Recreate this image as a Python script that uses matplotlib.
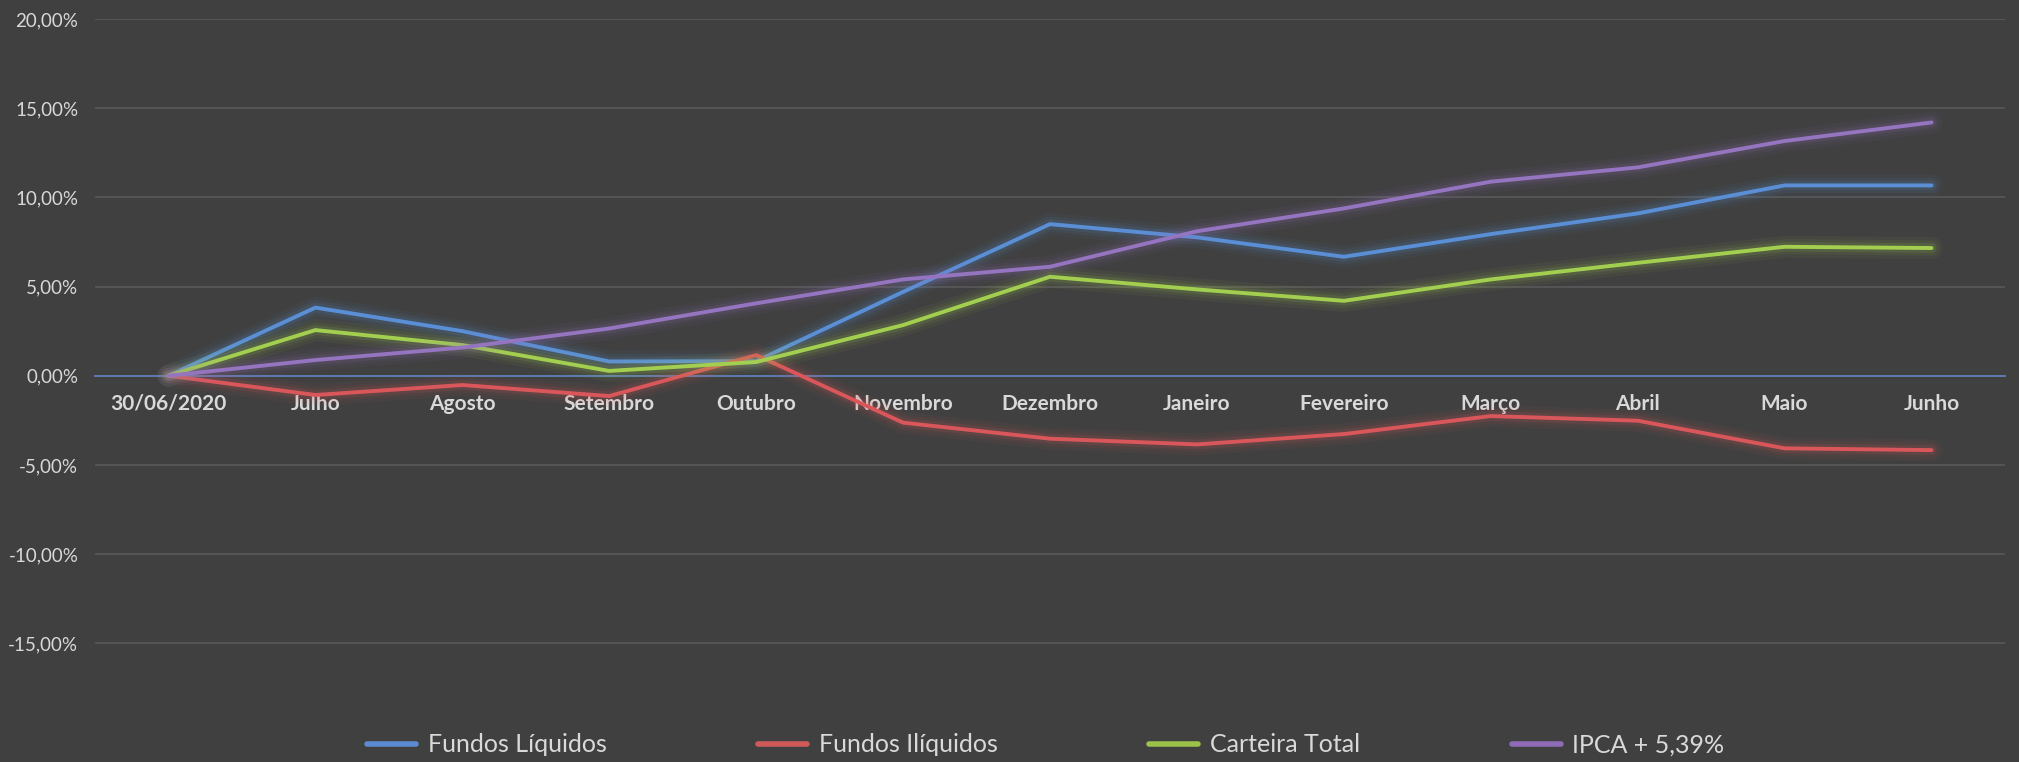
import matplotlib
matplotlib.use("Agg")
import matplotlib.pyplot as plt
import matplotlib.patheffects as pe
from matplotlib.ticker import FuncFormatter, FixedLocator

categories = ["30/06/2020", "Julho", "Agosto", "Setembro", "Outubro", "Novembro",
              "Dezembro", "Janeiro", "Fevereiro", "Março", "Abril", "Maio", "Junho"]

fundos_liquidos = [0.0, 3.82, 2.50, 0.80, 0.82, 4.70, 8.50, 7.76, 6.67, 7.94, 9.10, 10.67, 10.67]
fundos_iliquidos = [0.0, -1.08, -0.52, -1.14, 1.16, -2.63, -3.53, -3.85, -3.27, -2.26, -2.52, -4.07, -4.17]
carteira_total = [0.0, 2.56, 1.72, 0.27, 0.77, 2.84, 5.55, 4.84, 4.20, 5.40, 6.33, 7.23, 7.16]
ipca = [0.0, 0.88, 1.58, 2.65, 4.06, 5.40, 6.11, 8.10, 9.38, 10.88, 11.68, 13.16, 14.20]

series_names = ["Fundos Líquidos", "Fundos Ilíquidos", "Carteira Total", "IPCA + 5,39%"]
series_values = [fundos_liquidos, fundos_iliquidos, carteira_total, ipca]
series_colors = ["#5a8fd6", "#d9575a", "#a3cf50", "#9574c0"]
legend_colors = ["#5b8bd0", "#d05a5a", "#9bc34a", "#8f6bb8"]

y_ticks = [-15, -10, -5, 0, 5, 10, 15, 20]

plt.rcParams['font.family'] = ['Lato', 'DejaVu Sans']

BG = "#404040"
TXT = "#d9d9d9"

fig = plt.figure(figsize=(20.19, 7.62), dpi=100, facecolor=BG)
ax = fig.add_axes([95/2019, 1-720/762, (2005-95)/2019, (720-19)/762])
ax.set_facecolor(BG)

x = list(range(len(categories)))
for name, vals, col in zip(series_names, series_values, series_colors):
    ax.plot(x, vals, color=col, lw=2.8, label=name, solid_capstyle='round', zorder=3,
            path_effects=[pe.Stroke(linewidth=16, foreground=col, alpha=0.05),
                          pe.Stroke(linewidth=11, foreground=col, alpha=0.07),
                          pe.Stroke(linewidth=7, foreground=col, alpha=0.12),
                          pe.Normal()])

ax.set_xlim(-0.5, len(categories) - 0.5)
ax.set_ylim(-19.3, 20)
ax.yaxis.set_major_locator(FixedLocator(y_ticks))
ax.yaxis.set_major_formatter(FuncFormatter(lambda v, p: f"{v:.2f}".replace(".", ",") + "%"))
ax.grid(axis='y', color="#595959", lw=1.2, zorder=0)
ax.set_axisbelow(True)

for s in ["top", "right", "left"]:
    ax.spines[s].set_visible(False)
ax.spines["bottom"].set_position(("data", 0))
ax.spines["bottom"].set_color("#5b7fb8")
ax.spines["bottom"].set_linewidth(1.3)
ax.spines["bottom"].set_zorder(2)

ax.set_xticks(x)
ax.set_xticklabels(categories, fontweight='bold')
ax.tick_params(axis='x', length=0, pad=13, labelsize=15, labelcolor=TXT)
ax.tick_params(axis='y', length=0, pad=12, labelsize=13.5, labelcolor=TXT)

leg = fig.legend(loc='center', bbox_to_anchor=(0.518, 1-745/762), ncol=4, frameon=False,
                 fontsize=18, labelcolor=TXT, handlelength=1.96, handletextpad=0.46,
                 columnspacing=6.07)
for h, c in zip(leg.get_lines(), legend_colors):
    h.set_linewidth(4)
    h.set_color(c)
    h.set_path_effects([])

fig.savefig("out.png", dpi=100, facecolor=BG)
